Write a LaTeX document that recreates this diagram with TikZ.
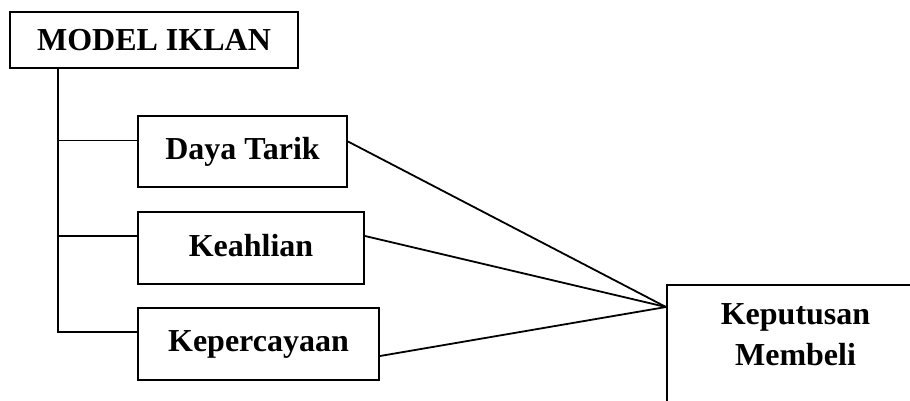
\documentclass[tikz,border=0pt]{standalone}
\usepackage{fontspec}
\setmainfont{Liberation Serif}
\begin{document}
\begin{tikzpicture}[x=1pt,y=-1pt,
  box/.style={draw,line width=2pt,inner sep=0pt,font=\fontsize{32}{41}\selectfont\bfseries},
  conn/.style={line width=1.8pt}]
\useasboundingbox (0,0) rectangle (910,400);
\fill[white] (0,0) rectangle (910,400);
\node[box,minimum width=288,minimum height=56] (model) at (154,40) {MODEL IKLAN};
\node[box,minimum width=209,minimum height=71] (dt) at (242.5,151.5) {Daya Tarik};
\node[box,minimum width=226,minimum height=72] (ka) at (251,248) {\raisebox{5pt}{Keahlian}};
\node[box,minimum width=241,minimum height=72] (kc) at (258.5,344) {\raisebox{5pt}{Kepercayaan}};
\node[box,minimum width=260,minimum height=136,anchor=north west] (kp) at (666,284) {};
\node[font=\fontsize{32}{41}\selectfont\bfseries,align=center,inner sep=0pt,anchor=north] (kptext) at (795.5,303) {Keputusan\\Membeli};
\coordinate (trunk) at ([xshift=49pt]model.south west);
\coordinate (hub) at ([yshift=-23pt]kp.north west);
\draw[conn] (trunk) |- ([yshift=12pt]kc.west);
\draw[conn] (trunk |- dt.west) ++(0,-11) -- ([yshift=11pt]dt.west);
\draw[conn] (trunk |- ka.west) ++(0,-12) -- ([yshift=12pt]ka.west);
\draw[conn] ([yshift=10pt]dt.east) -- (hub);
\draw[conn] ([yshift=12pt]ka.east) -- (hub);
\draw[conn] ([yshift=-12pt]kc.east) -- (hub);
\end{tikzpicture}
\end{document}
